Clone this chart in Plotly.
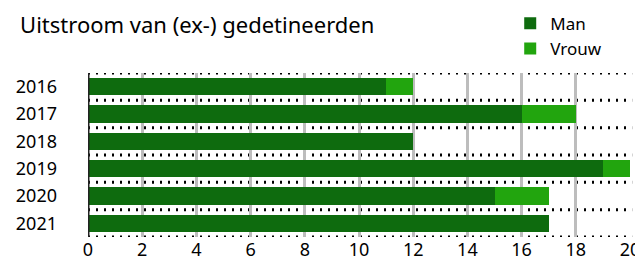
import plotly.graph_objects as go

years = ["2016", "2017", "2018", "2019", "2020", "2021"]
man = [11, 16, 12, 19, 15, 17]
vrouw = [1, 2, 0, 1, 2, 0]
x_ticks = [0, 2, 4, 6, 8, 10, 12, 14, 16, 18, 20]

FONT = "Noto Sans"
idx = list(range(len(years)))

fig = go.Figure()
fig.add_trace(go.Bar(y=idx, x=man, orientation="h", name="Man",
                     marker=dict(color="#0E6B0E", line=dict(width=0))))
fig.add_trace(go.Bar(y=idx, x=vrouw, orientation="h", name="Vrouw",
                     marker=dict(color="#22A50E", line=dict(width=0))))

fig.update_layout(
    barmode="stack",
    bargap=0.36,
    width=635, height=252,
    margin=dict(l=80, r=13, t=65, b=23, autoexpand=False),
    paper_bgcolor="white", plot_bgcolor="white",
    font=dict(family=FONT, color="black", size=16),
    title=dict(text="Uitstroom van (ex-) gedetineerden", x=0.019, xanchor="left",
               y=0.93, yanchor="middle", font=dict(size=22, family=FONT),
               automargin=False),
    showlegend=True,
    legend=dict(x=0.779, y=1.41, xanchor="left", yanchor="top",
                font=dict(size=17), traceorder="normal", tracegroupgap=0,
                bgcolor="rgba(0,0,0,0)"),
    xaxis=dict(range=[0, 20], tickvals=x_ticks, showgrid=True, gridcolor="#BDBDBD",
               gridwidth=3, zeroline=False, showline=False, ticks="",
               tickfont=dict(size=18), fixedrange=True, automargin=False),
    yaxis=dict(range=[len(years) - 0.5, -0.5], tickvals=idx, ticktext=years,
               showgrid=False, zeroline=False, showline=False, ticks="",
               ticklabelstandoff=30, tickfont=dict(size=18), automargin=False),
)

# dotted separators between the year rows
for b in [i - 0.5 for i in range(len(years) + 1)]:
    fig.add_shape(type="line", xref="paper", yref="y", x0=0, x1=1.004, y0=b, y1=b,
                  line=dict(color="black", width=3, dash="2px,6px"), layer="below")

# axis line at x = 0
fig.add_shape(type="line", xref="x", yref="paper", x0=0, x1=0, y0=0, y1=1,
              line=dict(color="#222222", width=3), layer="above")

fig.write_html("out.html")
